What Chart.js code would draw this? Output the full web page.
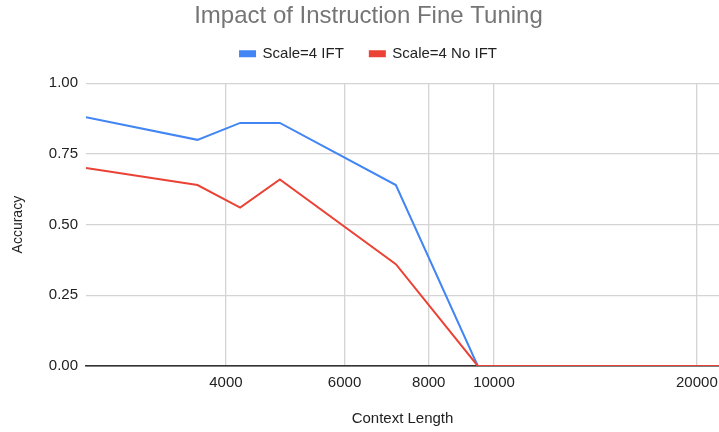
<!DOCTYPE html>
<html>
<head>
<meta charset="utf-8">
<script src="https://cdn.jsdelivr.net/npm/chart.js@4/dist/chart.umd.min.js"></script>
<style>
  body { margin: 0; background: #fff; }
  canvas { display: block; }
</style>
</head>
<body>
<canvas id="accuracy-chart" width="719" height="432"></canvas>
<script>
// values (x axis is logarithmic)
const context_lengths = [2480, 3630, 4200, 4810, 7150, 9460, 21570];
const ift_accuracy = [0.88, 0.80, 0.86, 0.86, 0.64, 0, 0];
const no_ift_accuracy = [0.70, 0.64, 0.56, 0.66, 0.36, 0, 0];
const x_tick_values = [4000, 6000, 8000, 10000, 20000];
const y_tick_values = [0, 0.25, 0.5, 0.75, 1];

function to_points(values) {
  return context_lengths.map((x, i) => ({ x: x, y: values[i] }));
}

Chart.defaults.font.family = "'Liberation Sans', Arial, sans-serif";
Chart.defaults.color = '#222';

// leave some extra space under the legend
const legend_gap = {
  id: 'legend_gap',
  beforeInit(chart) {
    const original_fit = chart.legend.fit;
    chart.legend.fit = function () {
      original_fit.call(this);
      this.height += 12;
    };
  }
};

const element = document.getElementById('accuracy-chart').getContext('2d');

new Chart(element, {
  type: 'line',
  data: {
    datasets: [{
      label: 'Scale=4 IFT',
      data: to_points(ift_accuracy),
      borderColor: '#4285f4',
      backgroundColor: '#4285f4',
      borderWidth: 2,
      pointRadius: 0,
      tension: 0,
      fill: false,
      order: 1
    }, {
      label: 'Scale=4 No IFT',
      data: to_points(no_ift_accuracy),
      borderColor: '#ea4335',
      backgroundColor: '#ea4335',
      borderWidth: 2,
      pointRadius: 0,
      tension: 0,
      fill: false,
      order: 0
    }]
  },
  plugins: [legend_gap],
  options: {
    responsive: false,
    animation: false,
    devicePixelRatio: 1,
    // title and legend sit a little right of the canvas centre
    layout: { padding: { left: 18, right: 0, top: 0, bottom: 0 } },
    plugins: {
      tooltip: { enabled: false },
      title: {
        display: true,
        text: 'Impact of Instruction Fine Tuning',
        color: '#757575',
        font: { size: 24, weight: 'normal' },
        padding: { top: 2, bottom: 2 }
      },
      legend: {
        position: 'top',
        labels: {
          boxWidth: 15,
          boxHeight: 5,
          padding: 13.5,
          color: '#222',
          font: { size: 15 },
          sort: (a, b) => a.datasetIndex - b.datasetIndex,
          // a bit more room between the two entries, like the original
          generateLabels: chart => {
            const items = Chart.defaults.plugins.legend.labels.generateLabels(chart);
            items.forEach(item => { if (item.datasetIndex === 0) item.text += '   '; });
            return items;
          }
        }
      }
    },
    scales: {
      x: {
        type: 'logarithmic',
        min: context_lengths[0],
        max: context_lengths[context_lengths.length - 1],
        afterBuildTicks: scale => {
          scale.ticks = x_tick_values.map(v => ({ value: v }));
        },
        afterFit: scale => {
          scale.height = 66;
          scale.paddingLeft = 0;
          scale.paddingRight = 0;
        },
        ticks: {
          autoSkip: false,
          maxRotation: 0,
          padding: 8,
          color: '#222',
          font: { size: 15 },
          callback: value => String(value)
        },
        grid: { color: '#d4d4d4', lineWidth: 1.3, drawTicks: false },
        border: { display: true, color: '#333', width: 1.5 },
        title: {
          display: true,
          text: 'Context Length',
          color: '#222',
          font: { size: 15 },
          padding: { top: 0, bottom: 4 }
        }
      },
      y: {
        min: 0,
        max: 1,
        afterBuildTicks: scale => {
          scale.ticks = y_tick_values.map(v => ({ value: v }));
        },
        afterFit: scale => { scale.width = 68; },
        ticks: {
          padding: 8,
          color: '#222',
          font: { size: 15 },
          callback: value => value.toFixed(2)
        },
        grid: {
          color: ctx => ctx.tick && ctx.tick.value === 0 ? '#333' : '#d4d4d4',
          lineWidth: 1.3,
          drawTicks: false
        },
        border: { display: false },
        title: {
          display: true,
          text: 'Accuracy',
          color: '#222',
          font: { size: 14 },
          padding: { top: -8, bottom: 0 }
        }
      }
    }
  }
});
</script>
</body>
</html>
